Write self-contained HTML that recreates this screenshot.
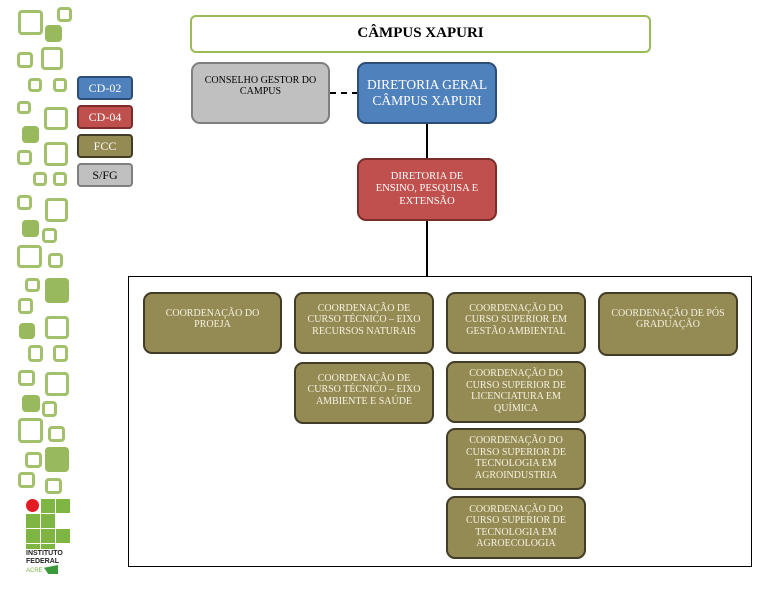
<!DOCTYPE html>
<html><head><meta charset="utf-8"><style>
body{margin:0;width:773px;height:589px;background:#fff;position:relative;overflow:hidden;font-family:"Liberation Serif",serif}
.b{position:absolute;box-sizing:border-box;border-radius:9px;display:flex;align-items:center;justify-content:center;text-align:center;line-height:1.15}
.o{background:#948a54;border:2.5px solid #403c25;color:#f6f2e0;font-size:10px;padding:0 6px 8px}
.s{position:absolute;box-sizing:border-box;border:3px solid #a3c06c;border-radius:4px}
.f{position:absolute;background:#98b95c;border-radius:4px}
.g{position:absolute;width:14px;height:14px;background:#7fb542}
.l{position:absolute;left:77px;width:56px;height:24px;box-sizing:border-box;border-radius:4px;border:2px solid;display:flex;align-items:center;justify-content:center;font-size:12px}
.ln{position:absolute;background:#000}
</style></head><body>
<div class="s" style="left:18px;top:10px;width:25px;height:25px"></div>
<div class="s" style="left:57px;top:7px;width:15px;height:15px"></div>
<div class="f" style="left:45px;top:25px;width:17px;height:17px"></div>
<div class="s" style="left:17px;top:52px;width:16px;height:16px"></div>
<div class="s" style="left:41px;top:47px;width:22px;height:23px"></div>
<div class="s" style="left:28px;top:78px;width:14px;height:14px"></div>
<div class="s" style="left:53px;top:78px;width:14px;height:14px"></div>
<div class="s" style="left:17px;top:101px;width:14px;height:13px"></div>
<div class="s" style="left:44px;top:107px;width:24px;height:23px"></div>
<div class="f" style="left:22px;top:126px;width:17px;height:17px"></div>
<div class="s" style="left:17px;top:150px;width:15px;height:15px"></div>
<div class="s" style="left:44px;top:142px;width:24px;height:24px"></div>
<div class="s" style="left:33px;top:172px;width:14px;height:14px"></div>
<div class="s" style="left:53px;top:172px;width:14px;height:14px"></div>
<div class="s" style="left:17px;top:195px;width:15px;height:15px"></div>
<div class="s" style="left:45px;top:198px;width:23px;height:24px"></div>
<div class="f" style="left:22px;top:220px;width:17px;height:17px"></div>
<div class="s" style="left:42px;top:228px;width:15px;height:15px"></div>
<div class="s" style="left:17px;top:245px;width:25px;height:23px"></div>
<div class="s" style="left:48px;top:253px;width:15px;height:15px"></div>
<div class="s" style="left:25px;top:278px;width:15px;height:14px"></div>
<div class="f" style="left:45px;top:278px;width:24px;height:25px"></div>
<div class="s" style="left:18px;top:298px;width:15px;height:16px"></div>
<div class="f" style="left:19px;top:323px;width:16px;height:16px"></div>
<div class="s" style="left:45px;top:316px;width:24px;height:23px"></div>
<div class="s" style="left:28px;top:345px;width:15px;height:17px"></div>
<div class="s" style="left:53px;top:345px;width:15px;height:17px"></div>
<div class="s" style="left:18px;top:370px;width:17px;height:16px"></div>
<div class="s" style="left:45px;top:372px;width:24px;height:24px"></div>
<div class="f" style="left:22px;top:395px;width:18px;height:17px"></div>
<div class="s" style="left:42px;top:401px;width:15px;height:16px"></div>
<div class="s" style="left:18px;top:418px;width:25px;height:25px"></div>
<div class="s" style="left:48px;top:426px;width:17px;height:16px"></div>
<div class="s" style="left:25px;top:452px;width:17px;height:16px"></div>
<div class="f" style="left:45px;top:447px;width:24px;height:25px"></div>
<div class="s" style="left:18px;top:472px;width:17px;height:16px"></div>
<div class="s" style="left:45px;top:478px;width:17px;height:16px"></div>
<div style="position:absolute;left:26px;top:499px;width:13px;height:13px;border-radius:50%;background:#e31b23"></div>
<div class="g" style="left:41px;top:499px"></div><div class="g" style="left:56px;top:499px"></div>
<div class="g" style="left:26px;top:514px"></div><div class="g" style="left:41px;top:514px"></div>
<div class="g" style="left:26px;top:529px"></div><div class="g" style="left:41px;top:529px"></div><div class="g" style="left:56px;top:529px"></div>
<div class="g" style="left:26px;top:544px;height:5px"></div><div class="g" style="left:41px;top:544px;height:5px"></div>
<div style="position:absolute;left:26px;top:550px;font:bold 7px 'Liberation Sans',sans-serif;line-height:8px;color:#222">INSTITUTO<br>FEDERAL</div>
<div style="position:absolute;left:26px;top:568px;font:6px 'Liberation Sans',sans-serif;color:#7fb542">ACRE</div>
<div style="position:absolute;left:44px;top:565px;width:14px;height:9px;background:#3a9a3a;clip-path:polygon(0 30%,100% 0,100% 100%,30% 100%)"></div>
<div class="l" style="top:76px;background:#4f81bd;border-color:#2c4d75;color:#fff">CD-02</div>
<div class="l" style="top:105px;background:#c0504d;border-color:#7a2d2b;color:#fff">CD-04</div>
<div class="l" style="top:134px;background:#948a54;border-color:#403c25;color:#fff">FCC</div>
<div class="l" style="top:163px;background:#c0c0c0;border-color:#7f7f7f;color:#000">S/FG</div>
<div class="b" style="left:190px;top:15px;width:461px;height:38px;border:2.5px solid #9bbb59;border-radius:6px;font-weight:bold;font-size:15px">CÂMPUS XAPURI</div>
<div class="b" style="left:191px;top:62px;width:139px;height:62px;background:#c0c0c0;border:2.5px solid #7f7f7f;font-size:10px;padding:0 8px 14px">CONSELHO GESTOR DO CAMPUS</div>
<div style="position:absolute;left:330px;top:92px;width:28px;border-top:2.5px dashed #000"></div>
<div class="b" style="left:357px;top:62px;width:140px;height:62px;background:#4f81bd;border:2.5px solid #2c4d75;color:#fff;font-size:13.5px">DIRETORIA GERAL CÂMPUS XAPURI</div>
<div class="ln" style="left:426px;top:124px;width:2px;height:35px"></div>
<div class="b" style="left:357px;top:158px;width:140px;height:63px;background:#c0504d;border:2.5px solid #7a2d2b;color:#fff;font-size:10.5px;padding:0 14px">DIRETORIA DE ENSINO, PESQUISA E EXTENSÃO</div>
<div class="ln" style="left:426px;top:221px;width:2px;height:56px"></div>
<div style="position:absolute;left:128px;top:276px;width:624px;height:291px;box-sizing:border-box;border:1.5px solid #000"></div>
<div class="b o" style="left:143px;top:292px;width:139px;height:62px">COORDENAÇÃO DO PROEJA</div>
<div class="b o" style="left:294px;top:292px;width:140px;height:62px;padding:0 10px 6px">COORDENAÇÃO DE CURSO TÉCNICO – EIXO RECURSOS NATURAIS</div>
<div class="b o" style="left:294px;top:362px;width:140px;height:62px;padding:0 10px 6px">COORDENAÇÃO DE CURSO TÉCNICO – EIXO AMBIENTE E SAÚDE</div>
<div class="b o" style="left:446px;top:292px;width:140px;height:62px;padding:0 12px 6px">COORDENAÇÃO DO CURSO SUPERIOR EM GESTÃO AMBIENTAL</div>
<div class="b o" style="left:446px;top:361px;width:140px;height:62px;padding:0 12px 2px">COORDENAÇÃO DO CURSO SUPERIOR DE LICENCIATURA EM QUÍMICA</div>
<div class="b o" style="left:446px;top:428px;width:140px;height:62px;padding:0 12px 2px">COORDENAÇÃO DO CURSO SUPERIOR DE TECNOLOGIA EM AGROINDUSTRIA</div>
<div class="b o" style="left:446px;top:496px;width:140px;height:63px;padding:0 12px 2px">COORDENAÇÃO DO CURSO SUPERIOR DE TECNOLOGIA EM AGROECOLOGIA</div>
<div class="b o" style="left:598px;top:292px;width:140px;height:64px;padding:0 8px 10px">COORDENAÇÃO DE PÓS GRADUAÇÃO</div>
</body></html>
